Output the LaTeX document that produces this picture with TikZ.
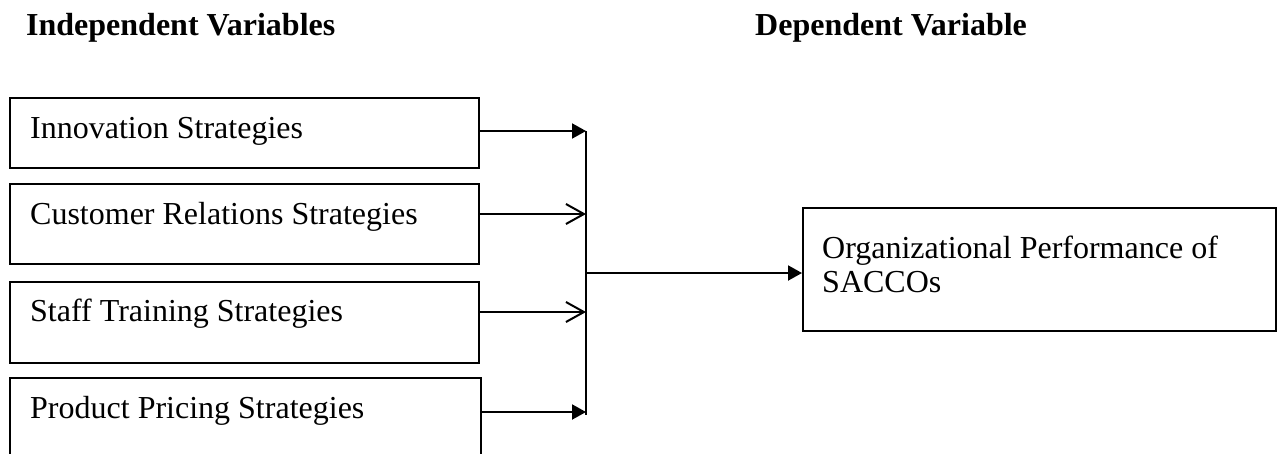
\documentclass[tikz,border=0pt]{standalone}
\usepackage{fontspec}
\setmainfont{Liberation Serif}
\usetikzlibrary{arrows.meta}
\begin{document}
\begin{tikzpicture}[x=1pt,y=-1pt,
  every node/.style={font=\fontsize{32}{34}\selectfont},
  box/.style={draw,line width=2pt,inner sep=0pt,anchor=north west},
  txt/.style={anchor=base west,inner sep=0pt,align=left},
  head/.style={anchor=base west,inner sep=0pt,font=\fontsize{32}{34}\selectfont\bfseries},
  conn/.style={line width=2pt},
  solidtip/.style={conn,-{Triangle[length=14pt,width=15pt]}},
  opentip/.style={conn,-{Straight Barb[length=18pt,width=20pt,line width=2pt]}}]
\useasboundingbox (0,0) rectangle (1285,453);
\clip (0,0) rectangle (1285,453);
\node[head] (h1) at (26,35) {Independent Variables};
\node[head] (h2) at (755,35) {Dependent Variable};
\node[box,minimum width=469pt,minimum height=70pt] (b1) at (9,97) {};
\node[box,minimum width=469pt,minimum height=80pt] (b2) at (9,183) {};
\node[box,minimum width=469pt,minimum height=81pt] (b3) at (9,281) {};
\node[box,minimum width=471pt,minimum height=100pt] (b4) at (9,377) {};
\node[box,minimum width=473pt,minimum height=123pt] (out) at (802,207) {};
\node[txt] (t1) at (30,138) {Innovation Strategies};
\node[txt] (t2) at (30,224) {Customer Relations Strategies};
\node[txt] (t3) at (30,321) {Staff Training Strategies};
\node[txt] (t4) at (30,418) {Product Pricing Strategies};
\node[txt] (t5) at (822,292) {Organizational Performance of\\SACCOs};
\coordinate (a1) at (479,131);
\coordinate (a2) at (479,214);
\coordinate (a3) at (479,312);
\coordinate (a4) at (481,412);
\coordinate (j1) at (586,131);
\coordinate (j2) at (586,214);
\coordinate (j3) at (586,312);
\coordinate (j4) at (586,412);
\coordinate (jm) at (586,273);
\coordinate (jb) at (586,415);
\draw[conn] (j1) -- (jb);
\draw[solidtip] (a1) -- (j1);
\draw[opentip] (a2) -- (j2);
\draw[opentip] (a3) -- (j3);
\draw[solidtip] (a4) -- (j4);
\draw[solidtip] (jm) -- (out.west |- jm);
\end{tikzpicture}
\end{document}
